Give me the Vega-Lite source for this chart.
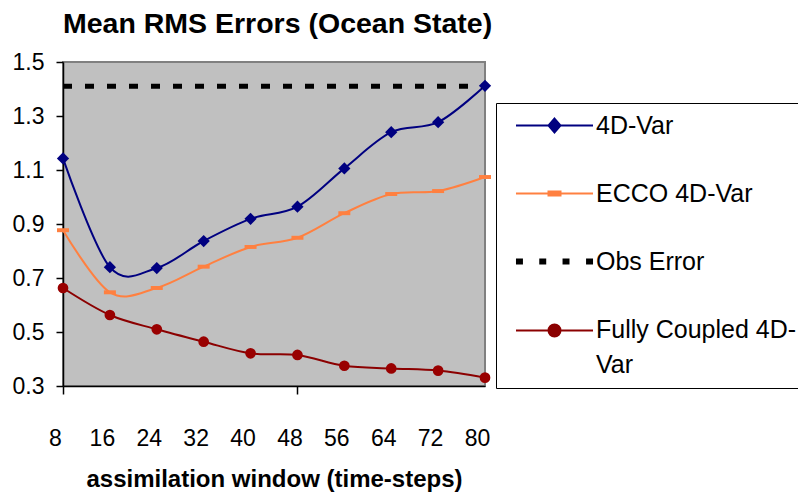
{
  "$schema": "https://vega.github.io/schema/vega-lite/v6.json",
  "autosize": {"type": "none"},
  "padding": {"left": 63, "top": 62, "right": 313, "bottom": 117},
  "width": 422,
  "height": 324,
  "background": "white",
  "title": {
    "text": "Mean RMS Errors (Ocean State)",
    "anchor": "start",
    "frame": "group",
    "font": "Liberation Sans",
    "fontSize": 28.5,
    "fontWeight": "bold",
    "color": "black",
    "baseline": "alphabetic",
    "offset": -10
  },
  "data": {
    "values": [
      {"series": "4D-Var", "window": 8, "rms": 1.143},
      {"series": "4D-Var", "window": 16, "rms": 0.740},
      {"series": "4D-Var", "window": 24, "rms": 0.737},
      {"series": "4D-Var", "window": 32, "rms": 0.837},
      {"series": "4D-Var", "window": 40, "rms": 0.919},
      {"series": "4D-Var", "window": 48, "rms": 0.964},
      {"series": "4D-Var", "window": 56, "rms": 1.106},
      {"series": "4D-Var", "window": 64, "rms": 1.240},
      {"series": "4D-Var", "window": 72, "rms": 1.277},
      {"series": "4D-Var", "window": 80, "rms": 1.412},
      {"series": "ECCO 4D-Var", "window": 8, "rms": 0.877},
      {"series": "ECCO 4D-Var", "window": 16, "rms": 0.647},
      {"series": "ECCO 4D-Var", "window": 24, "rms": 0.663},
      {"series": "ECCO 4D-Var", "window": 32, "rms": 0.742},
      {"series": "ECCO 4D-Var", "window": 40, "rms": 0.815},
      {"series": "ECCO 4D-Var", "window": 48, "rms": 0.849},
      {"series": "ECCO 4D-Var", "window": 56, "rms": 0.940},
      {"series": "ECCO 4D-Var", "window": 64, "rms": 1.011},
      {"series": "ECCO 4D-Var", "window": 72, "rms": 1.022},
      {"series": "ECCO 4D-Var", "window": 80, "rms": 1.074},
      {"series": "Obs Error", "window": 8, "rms": 1.41},
      {"series": "Obs Error", "window": 16, "rms": 1.41},
      {"series": "Obs Error", "window": 24, "rms": 1.41},
      {"series": "Obs Error", "window": 32, "rms": 1.41},
      {"series": "Obs Error", "window": 40, "rms": 1.41},
      {"series": "Obs Error", "window": 48, "rms": 1.41},
      {"series": "Obs Error", "window": 56, "rms": 1.41},
      {"series": "Obs Error", "window": 64, "rms": 1.41},
      {"series": "Obs Error", "window": 72, "rms": 1.41},
      {"series": "Obs Error", "window": 80, "rms": 1.41},
      {"series": "Fully Coupled 4D-Var", "window": 8, "rms": 0.663},
      {"series": "Fully Coupled 4D-Var", "window": 16, "rms": 0.563},
      {"series": "Fully Coupled 4D-Var", "window": 24, "rms": 0.510},
      {"series": "Fully Coupled 4D-Var", "window": 32, "rms": 0.464},
      {"series": "Fully Coupled 4D-Var", "window": 40, "rms": 0.421},
      {"series": "Fully Coupled 4D-Var", "window": 48, "rms": 0.415},
      {"series": "Fully Coupled 4D-Var", "window": 56, "rms": 0.375},
      {"series": "Fully Coupled 4D-Var", "window": 64, "rms": 0.365},
      {"series": "Fully Coupled 4D-Var", "window": 72, "rms": 0.357},
      {"series": "Fully Coupled 4D-Var", "window": 80, "rms": 0.331}
    ]
  },
  "encoding": {
    "x": {
      "field": "window",
      "type": "quantitative",
      "scale": {"domain": [8, 80], "nice": false, "zero": false},
      "axis": {
        "values": [8, 16, 24, 32, 40, 48, 56, 64, 72, 80],
        "title": "assimilation window (time-steps)",
        "labelOffset": -8,
        "labelPadding": 33,
        "labelFlush": false,
        "labelOverlap": false,
        "tickSize": 8,
        "tickOpacity": {"condition": {"test": "datum.value === 8 || datum.value === 48", "value": 1}, "value": 0},
        "titlePadding": 17
      }
    },
    "y": {
      "field": "rms",
      "type": "quantitative",
      "scale": {"domain": [0.3, 1.5], "nice": false, "zero": false},
      "axis": {
        "values": [0.3, 0.5, 0.7, 0.9, 1.1, 1.3, 1.5],
        "format": ".1f",
        "title": null,
        "tickSize": 7,
        "labelPadding": 12
      }
    }
  },
  "layer": [
    {
      "transform": [{"filter": "datum.series !== 'Obs Error'"}],
      "mark": {"type": "line", "strokeWidth": 2, "interpolate": "cardinal", "tension": 0},
      "encoding": {
        "stroke": {
          "field": "series",
          "type": "nominal",
          "scale": {"domain": ["4D-Var", "ECCO 4D-Var", "Fully Coupled 4D-Var"], "range": ["#000080", "#FF8040", "#8B0000"]},
          "legend": null
        }
      }
    },
    {
      "transform": [{"filter": "datum.series === 'Obs Error'"}],
      "mark": {"type": "line", "color": "black", "strokeWidth": 5, "strokeDash": [9, 13], "strokeCap": "butt"},
      "encoding": {}
    },
    {
      "transform": [{"filter": "datum.series === '4D-Var'"}],
      "mark": {"type": "point", "shape": "diamond", "filled": true, "opacity": 1, "color": "#000080", "size": 150},
      "encoding": {}
    },
    {
      "transform": [{"filter": "datum.series === 'ECCO 4D-Var'"}],
      "mark": {"type": "point", "shape": "M-1,-0.33H1V0.33H-1Z", "filled": true, "opacity": 1, "color": "#FF8040", "size": 144},
      "encoding": {}
    },
    {
      "transform": [{"filter": "datum.series === 'Fully Coupled 4D-Var'"}],
      "mark": {"type": "point", "shape": "circle", "filled": true, "opacity": 1, "color": "#990000", "size": 115},
      "encoding": {}
    },
    {
      "mark": {"type": "point", "filled": true, "opacity": 0, "size": 10},
      "encoding": {
        "color": {
          "field": "series",
          "type": "nominal",
          "scale": {"domain": ["4D-Var", "ECCO 4D-Var", "Obs Error", "Fully Coupled 4D-Var"], "range": ["#000080", "#FF8040", "black", "#8B0000"]},
          "legend": {
            "labelExpr": "datum.label === 'Fully Coupled 4D-Var' ? ['Fully Coupled 4D-', 'Var'] : datum.label",
            "encode": {
              "symbols": {
                "update": {
                  "fill": {"scale": "color", "field": "value"},
                  "stroke": {"scale": "color", "field": "value"},
                  "strokeWidth": {"signal": "datum.value === 'Obs Error' ? 0 : 2"},
                  "opacity": {"value": 1}
                }
              },
              "labels": {
                "update": {
                  "baseline": {"signal": "datum.value === 'Fully Coupled 4D-Var' ? 'top' : 'middle'"},
                  "dy": {"signal": "datum.value === 'Fully Coupled 4D-Var' ? -13 : 0"}
                }
              }
            }
          }
        },
        "shape": {
          "field": "series",
          "type": "nominal",
          "scale": {
            "domain": ["4D-Var", "ECCO 4D-Var", "Obs Error", "Fully Coupled 4D-Var"],
            "range": [
              "M-3.21,0H3.21M0,-0.58L0.5,0L0,0.58L-0.5,0Z",
              "M-3.21,0H3.21M-0.5,-0.17H0.5V0.17H-0.5Z",
              "M-3.21,-0.26H-2.63V0.26H-3.21Z M-1.27,-0.26H-0.69V0.26H-1.27Z M0.67,-0.26H1.25V0.26H0.67Z M2.63,-0.26H3.21V0.26H2.63Z",
              "M-3.21,0H3.21M-0.5,0A0.5,0.5 0 1,0 0.5,0A0.5,0.5 0 1,0 -0.5,0Z"
            ]
          }
        }
      }
    }
  ],
  "config": {
    "font": "Liberation Sans",
    "view": {"stroke": "#808080", "strokeWidth": 2, "fill": "#C0C0C0"},
    "axis": {
      "grid": false,
      "domainColor": "black",
      "domainWidth": 1.5,
      "tickColor": "black",
      "tickWidth": 1.5,
      "labelFont": "Liberation Sans",
      "labelFontSize": 23,
      "labelColor": "black",
      "titleFont": "Liberation Sans",
      "titleFontSize": 24,
      "titleFontWeight": "bold",
      "titleColor": "black"
    },
    "legend": {
      "orient": "none",
      "legendX": 433,
      "legendY": 41,
      "title": null,
      "padding": 10,
      "symbolOffset": 36,
      "labelOffset": 29,
      "symbolSize": 576,
      "symbolStrokeWidth": 2,
      "rowPadding": 42,
      "labelFont": "Liberation Sans",
      "labelFontSize": 25,
      "labelColor": "black",
      "labelLimit": 500,
      "fillColor": "white",
      "strokeColor": "black"
    },
    "style": {"guide-label": {"lineHeight": 35}}
  }
}
